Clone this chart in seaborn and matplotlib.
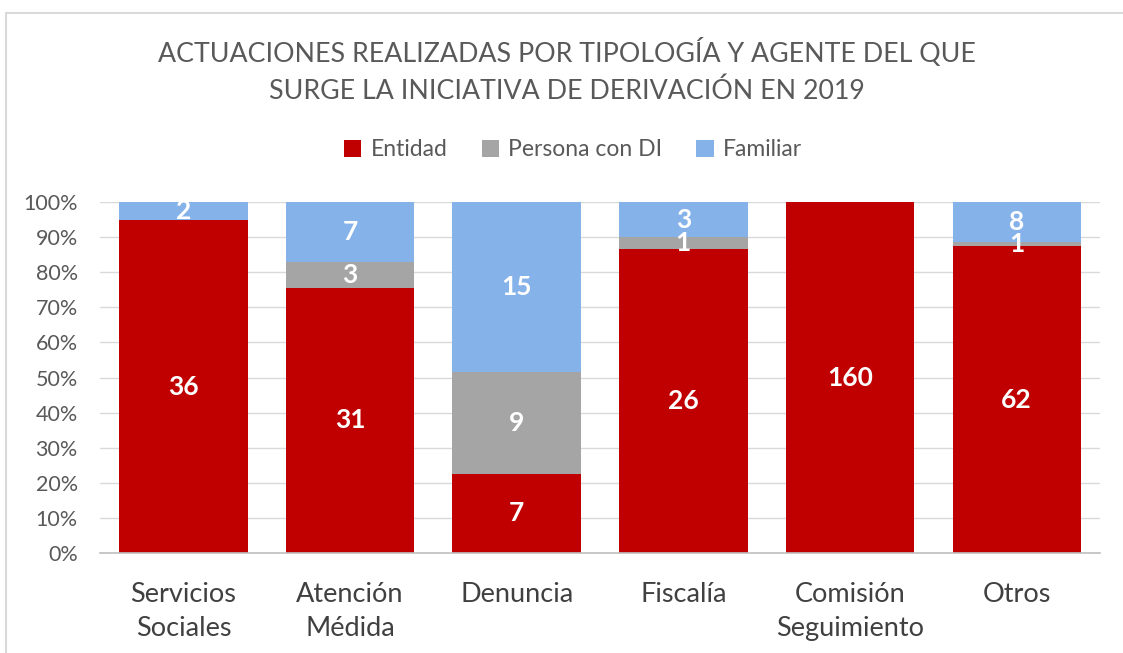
import numpy as np
import pandas as pd
import seaborn as sns
from matplotlib import pyplot as plt
from matplotlib.lines import Line2D
from matplotlib.patches import Patch
from matplotlib.ticker import PercentFormatter

categories = ["Servicios\nSociales", "Atención\nMédida", "Denuncia", "Fiscalía", "Comisión\nSeguimiento", "Otros"]
entidad = [36, 31, 7, 26, 160, 62]
persona = [0, 3, 9, 1, 0, 1]
familiar = [2, 7, 15, 3, 0, 8]
series_names = ["Entidad", "Persona con DI", "Familiar"]
colors = ["#C00000", "#A5A5A5", "#86B2EA"]
title = "ACTUACIONES REALIZADAS POR TIPOLOGÍA Y AGENTE DEL QUE\nSURGE LA INICIATIVA DE DERIVACIÓN EN 2019"

sns.set_theme(style="white")
plt.rcParams["font.family"] = ["Lato", "DejaVu Sans"]

counts = np.array([entidad, persona, familiar], dtype=float)
totals = counts.sum(axis=0)
shares = counts / totals
tops = np.cumsum(shares, axis=0)

fig = plt.figure(figsize=(11.23, 6.53), dpi=100)
ax = fig.add_axes([100 / 1123, 1 - 553 / 653, 1000 / 1123, 351 / 653])

# stacked bars drawn as overlapping cumulative bars, highest first
for i in [2, 1, 0]:
    df = pd.DataFrame({"cat": categories, "val": tops[i]})
    sns.barplot(data=df, x="cat", y="val", color=colors[i], saturation=1,
                width=0.77, ax=ax, linewidth=0, zorder=2)

for i in range(3):
    for j in range(len(categories)):
        if counts[i, j] > 0:
            ax.text(j, tops[i, j] - shares[i, j] / 2, f"{int(counts[i, j])}",
                    ha="center", va="center", color="white",
                    fontsize=19, fontweight="bold", zorder=5)

ax.set_ylim(0, 1)
ax.set_xlim(-0.5, len(categories) - 0.5)
ax.set_yticks(np.arange(0, 1.01, 0.1))
ax.yaxis.set_major_formatter(PercentFormatter(1.0, decimals=0))
ax.grid(axis="y", color="#D9D9D9", linewidth=1, zorder=0)
ax.set_axisbelow(True)
for s in ["top", "right", "left"]:
    ax.spines[s].set_visible(False)
ax.spines["bottom"].set_color("#BFBFBF")
ax.spines["bottom"].set_linewidth(1.2)
ax.tick_params(axis="y", length=0, labelsize=15.5, labelcolor="#595959", pad=16)
ax.tick_params(axis="x", length=0, labelsize=19.5, labelcolor="#404040", pad=21)
for lbl in ax.get_xticklabels():
    lbl.set_linespacing(1.45)
ax.set_xlabel("")
ax.set_ylabel("")

fig.text(567 / 1123, 1 - 71 / 653, title, ha="center", va="center",
         fontsize=19.3, color="#595959", linespacing=1.55)

handles = [Patch(facecolor=c, edgecolor="none") for c in colors]
fig.legend(handles, series_names, loc="center", bbox_to_anchor=(573 / 1123, 1 - 150 / 653),
           ncol=3, frameon=False, fontsize=16.5, labelcolor="#595959",
           handlelength=0.75, handleheight=0.75, handletextpad=0.4, columnspacing=1.5)

# chart border (top and left visible in the crop)
fig.add_artist(Line2D([6 / 1123, 6 / 1123], [0, 1 - 13 / 653], transform=fig.transFigure,
                      color="#D9D9D9", linewidth=1.5))
fig.add_artist(Line2D([6 / 1123, 1], [1 - 13 / 653, 1 - 13 / 653], transform=fig.transFigure,
                      color="#D9D9D9", linewidth=1.5))

fig.savefig("out.png", dpi=100)
